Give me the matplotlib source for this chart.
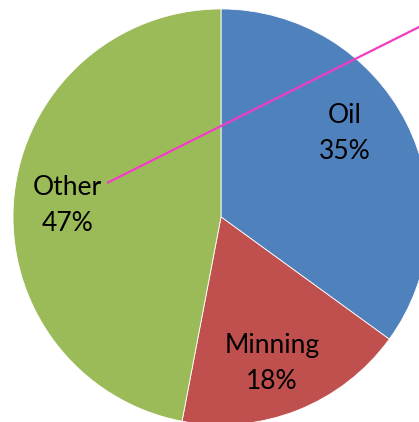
import matplotlib
matplotlib.use("Agg")
import matplotlib.pyplot as plt

labels = ["Oil", "Minning", "Other"]
shares = [35, 18, 47]
colors = ["#4F81BD", "#C0504D", "#9BBB59"]
# label positions (pie radius = 1)
label_pos = [(0.596, 0.40), (0.245, -0.705), (-0.74, 0.055)]

plt.rcParams["font.family"] = ["Lato", "DejaVu Sans"]

fig = plt.figure(figsize=(4.19, 4.22), dpi=100)
ax = fig.add_axes([0, 0, 1, 1])
ax.pie(shares, colors=colors, startangle=90, counterclock=False,
       radius=1.0, center=(0, 0),
       wedgeprops=dict(edgecolor="white", linewidth=0.6))

for lab, val, (x, y) in zip(labels, shares, label_pos):
    ax.text(x, y, f"{lab}\n{val}%", ha="center", va="center",
            fontsize=19, linespacing=1.55, color="black")

# magenta leader line
ax.plot([-0.548, 1.06], [0.163, 0.967], color="#F23CC8", lw=1.6,
        solid_capstyle="butt", clip_on=True)

ax.set_xlim(-1.0625, 0.952)
ax.set_ylim(-0.986, 1.043)
ax.set_aspect("equal")
ax.axis("off")
fig.savefig("out.png", dpi=100)
